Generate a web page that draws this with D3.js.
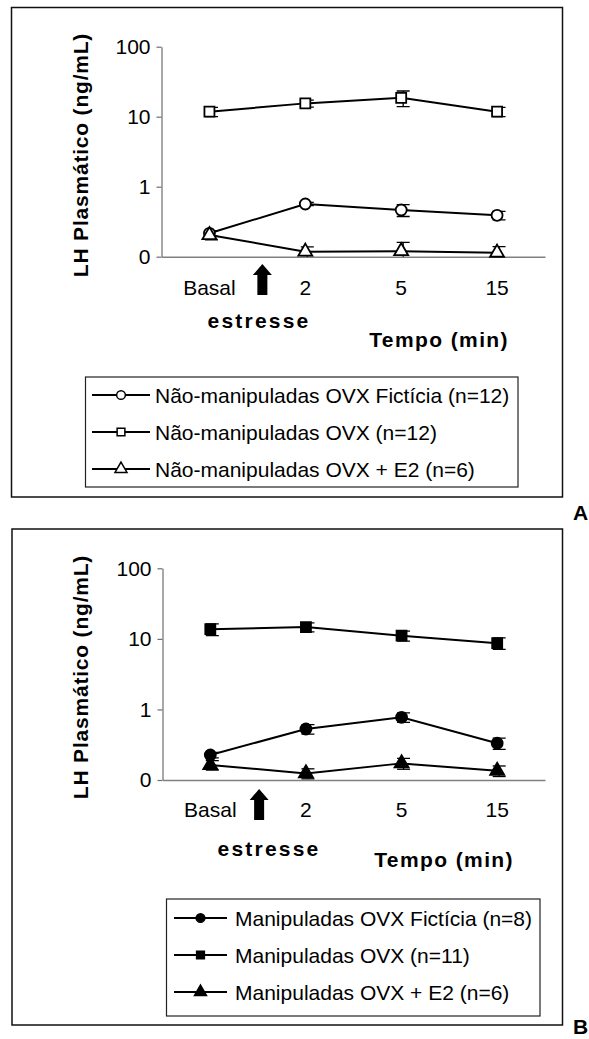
<!DOCTYPE html>
<html>
<head>
<meta charset="utf-8">
<script src="https://cdn.jsdelivr.net/npm/d3@7"></script>
<style>
  body { margin: 0; background: #fff; }
  svg { display: block; }
  text { font-family: "Liberation Sans", Arial, sans-serif; fill: #000; }
</style>
</head>
<body>
<svg id="chart" width="589" height="1039"></svg>
<script>
// Sampling times and y-axis ticks
const timePoints = ["Basal", "2", "5", "15"];
const yTickValues = [100, 10, 1, 0.1];
const yTickLabels = ["100", "10", "1", "0"];

// Panel A: non-handled females, plasma LH mean and SEM (ng/mL)
const shamA = [0.216, 0.566, 0.465, 0.39];
const shamAErr = [0.02, 0.03, 0.09, 0.055];
const ovxA = [11.8, 15.5, 18.6, 11.8];
const ovxAErr = [1.8, 1.8, 4.7, 1.8];
const ovxE2A = [0.204, 0.118, 0.12, 0.114];
const ovxE2AErr = [0.03, 0.02, 0.04, 0.025];

// Panel B: handled females
const shamB = [0.226, 0.528, 0.774, 0.332];
const shamBErr = [0.02, 0.08, 0.12, 0.06];
const ovxB = [13.7, 14.7, 11.1, 8.7];
const ovxBErr = [2.6, 2.1, 1.8, 1.6];
const ovxE2B = [0.163, 0.124, 0.172, 0.135];
const ovxE2BErr = [0.025, 0.02, 0.03, 0.023];

const legendA = ["Não-manipuladas OVX Fictícia (n=12)", "Não-manipuladas OVX (n=12)", "Não-manipuladas OVX + E2 (n=6)"];
const legendB = ["Manipuladas OVX Fictícia (n=8)", "Manipuladas OVX (n=11)", "Manipuladas OVX + E2 (n=6)"];

const yTitle = "LH Plasmático (ng/mL)";
const xTitle = "Tempo (min)";
const stressLabel = "estresse";

const svg = d3.select("#chart");

const symbolTypes = { circle: d3.symbolCircle, square: d3.symbolSquare, triangle: d3.symbolTriangle };
const markerArea = { circle: 95, square: 100, triangle: 85 };
const legendArea = { circle: 60, square: 60, triangle: 62 };

function drawPanel(cfg) {
  const g = svg.append("g");

  // outer frame
  g.append("rect")
    .attr("x", cfg.frame[0]).attr("y", cfg.frame[1])
    .attr("width", cfg.frame[2] - cfg.frame[0]).attr("height", cfg.frame[3] - cfg.frame[1])
    .attr("fill", "none").attr("stroke", "#111").attr("stroke-width", 1.5);

  const x = d3.scaleBand().domain(timePoints).range([cfg.x0, cfg.x1]);
  const y = d3.scaleLog().domain([0.1, 100]).range([cfg.yBottom, cfg.yTop]);
  const cx = d => x(d) + x.bandwidth() / 2;

  const clipId = "clip" + cfg.id;
  svg.append("clipPath").attr("id", clipId)
    .append("rect").attr("x", cfg.x0).attr("y", cfg.yTop - 20)
    .attr("width", cfg.x1 - cfg.x0).attr("height", cfg.yBottom - cfg.yTop + 20);

  // y axis
  const yAxis = g.append("g")
    .attr("transform", `translate(${cfg.x0},0)`)
    .call(d3.axisLeft(y).tickValues(yTickValues)
      .tickFormat((d, i) => yTickLabels[i]).tickSizeInner(5).tickSizeOuter(0).tickPadding(6));
  yAxis.select(".domain").attr("stroke", "#6e6e6e").attr("stroke-width", 1.2);
  yAxis.selectAll(".tick line").attr("stroke", "#6e6e6e").attr("stroke-width", 1.2);
  yAxis.selectAll(".tick text")
    .attr("font-size", 21).attr("fill", "#000")
    .style("font-family", '"Liberation Sans", Arial, sans-serif');

  // x axis
  const xAxis = g.append("g")
    .attr("transform", `translate(0,${cfg.yBottom})`)
    .call(d3.axisBottom(x).tickSize(0).tickPadding(0));
  xAxis.select(".domain").attr("stroke", "#808080").attr("stroke-width", 1.4);
  xAxis.selectAll(".tick text")
    .attr("y", cfg.xLabelDy).attr("dy", 0)
    .attr("font-size", 21).attr("fill", "#000")
    .style("font-family", '"Liberation Sans", Arial, sans-serif');

  // y title
  g.append("text")
    .attr("transform", `translate(${cfg.yTitleX},${cfg.yTitleY}) rotate(-90)`)
    .attr("text-anchor", "middle")
    .attr("font-size", 21).attr("font-weight", "bold")
    .attr("letter-spacing", 0.8)
    .text(yTitle);

  // stress arrow between Basal and 2 min
  const ax = (cx(timePoints[0]) + cx(timePoints[1])) / 2 + cfg.arrowShift;
  const at = cfg.arrowTop, ab = cfg.arrowBottom;
  const headH = 11, headW = 9.5, shaftW = 5;
  g.append("path")
    .attr("d", `M${ax},${at} L${ax + headW},${at + headH} L${ax + shaftW},${at + headH} L${ax + shaftW},${ab} L${ax - shaftW},${ab} L${ax - shaftW},${at + headH} L${ax - headW},${at + headH} Z`)
    .attr("fill", "#000");

  g.append("text")
    .attr("x", cfg.stressX).attr("y", cfg.stressY)
    .attr("text-anchor", "middle")
    .attr("font-size", 21).attr("font-weight", "bold").attr("letter-spacing", 2.2)
    .text(stressLabel);

  g.append("text")
    .attr("x", cfg.tempoX).attr("y", cfg.tempoY)
    .attr("text-anchor", "end")
    .attr("font-size", 21).attr("font-weight", "bold").attr("letter-spacing", 1.4)
    .text(xTitle);

  // series: line, error bars, then markers on top
  const plot = g.append("g").attr("clip-path", `url(#${clipId})`);
  const marks = g.append("g");
  const line = d3.line().x(d => cx(d.t)).y(d => y(d.v));

  cfg.series.forEach(s => {
    const pts = timePoints.map((t, i) => ({ t, v: s.values[i], e: s.errors[i] }));
    plot.append("path").datum(pts)
      .attr("d", line).attr("fill", "none")
      .attr("stroke", "#000").attr("stroke-width", 2);

    const lo = d => y(Math.max(d.v - d.e, 0.05));
    const hi = d => y(d.v + d.e);
    const eb = plot.append("g").selectAll("g").data(pts).join("g")
      .attr("transform", d => `translate(${cx(d.t) + 2},0)`);
    eb.append("line")
      .attr("y1", hi).attr("y2", lo)
      .attr("stroke", "#000").attr("stroke-width", 1.3);
    eb.append("line")
      .attr("x1", -6.5).attr("x2", 6.5).attr("y1", hi).attr("y2", hi)
      .attr("stroke", "#000").attr("stroke-width", 1.3);
    eb.append("line")
      .attr("x1", -6.5).attr("x2", 6.5).attr("y1", lo).attr("y2", lo)
      .attr("stroke", "#000").attr("stroke-width", 1.3);

    marks.selectAll(null).data(pts).join("path")
      .attr("transform", d => `translate(${cx(d.t)},${y(d.v)})`)
      .attr("d", d3.symbol().type(symbolTypes[s.shape]).size(markerArea[s.shape])())
      .attr("fill", cfg.filled ? "#000" : "#fff")
      .attr("stroke", "#000").attr("stroke-width", 1.8);
  });

  // legend
  const L = cfg.legend;
  g.append("rect")
    .attr("x", L.x0).attr("y", L.y0)
    .attr("width", L.x1 - L.x0).attr("height", L.y1 - L.y0)
    .attr("fill", "#fff").attr("stroke", "#222").attr("stroke-width", 1.2);
  cfg.series.forEach((s, i) => {
    const ry = L.rows[i];
    g.append("line")
      .attr("x1", L.lineX0).attr("x2", L.lineX1).attr("y1", ry).attr("y2", ry)
      .attr("stroke", "#000").attr("stroke-width", 2);
    g.append("path")
      .attr("transform", `translate(${(L.lineX0 + L.lineX1) / 2},${ry})`)
      .attr("d", d3.symbol().type(symbolTypes[s.shape]).size(legendArea[s.shape])())
      .attr("fill", cfg.filled ? "#000" : "#fff")
      .attr("stroke", "#000").attr("stroke-width", 1.5);
    g.append("text")
      .attr("x", L.textX).attr("y", ry).attr("dy", "0.36em")
      .attr("font-size", 21)
      .text(s.label);
  });

  // panel letter
  g.append("text")
    .attr("x", cfg.letterX).attr("y", cfg.letterY)
    .attr("font-size", 21).attr("font-weight", "bold")
    .text(cfg.letter);
}

drawPanel({
  id: "A", letter: "A", letterX: 573, letterY: 520,
  frame: [11.5, 7.5, 562.5, 497],
  x0: 161.5, x1: 545, yTop: 46.7, yBottom: 256.7,
  xLabelDy: 38, yTitleX: 88, yTitleY: 155,
  arrowShift: 5, arrowTop: 264, arrowBottom: 295,
  stressX: 259, stressY: 328,
  tempoX: 509, tempoY: 347,
  filled: false,
  series: [
    { shape: "circle", values: shamA, errors: shamAErr, label: legendA[0] },
    { shape: "square", values: ovxA, errors: ovxAErr, label: legendA[1] },
    { shape: "triangle", values: ovxE2A, errors: ovxE2AErr, label: legendA[2] }
  ],
  legend: { x0: 85.5, x1: 518, y0: 377, y1: 487, rows: [395, 432, 469], lineX0: 92, lineX1: 150, textX: 155 }
});

drawPanel({
  id: "B", letter: "B", letterX: 573, letterY: 1034,
  frame: [12, 529, 562.5, 1025],
  x0: 162.5, x1: 545, yTop: 568.3, yBottom: 780,
  xLabelDy: 37, yTitleX: 88, yTitleY: 677,
  arrowShift: 1, arrowTop: 789, arrowBottom: 820,
  stressX: 269, stressY: 856,
  tempoX: 514, tempoY: 867,
  filled: true,
  series: [
    { shape: "circle", values: shamB, errors: shamBErr, label: legendB[0] },
    { shape: "square", values: ovxB, errors: ovxBErr, label: legendB[1] },
    { shape: "triangle", values: ovxE2B, errors: ovxE2BErr, label: legendB[2] }
  ],
  legend: { x0: 166.5, x1: 540, y0: 899, y1: 1016, rows: [918, 955, 992], lineX0: 174, lineX1: 227, textX: 235 }
});
</script>
</body>
</html>
